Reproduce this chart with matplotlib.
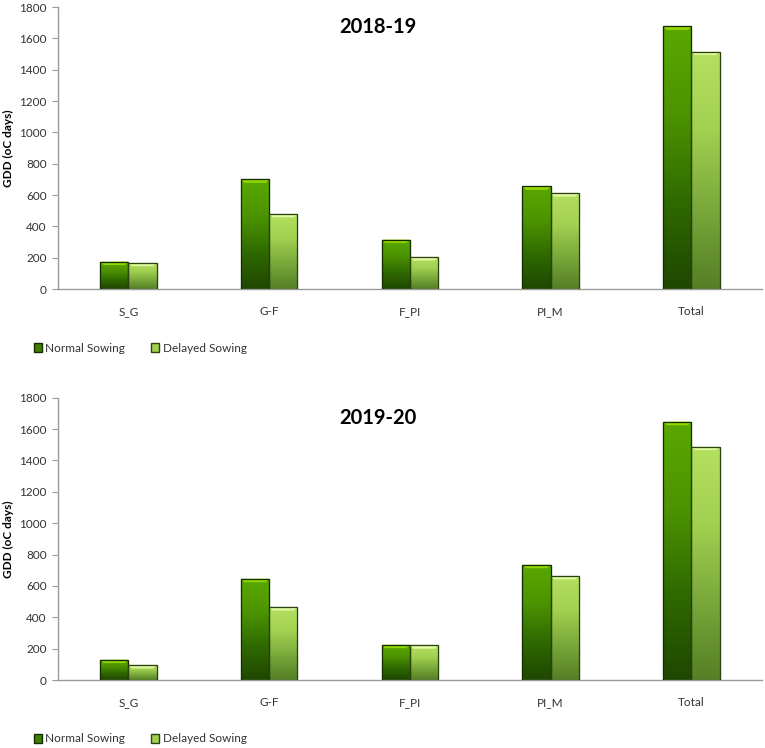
import numpy as np
import matplotlib
matplotlib.use("Agg")
import matplotlib.pyplot as plt
from matplotlib.patches import Patch
from matplotlib.colors import LinearSegmentedColormap

plt.rcParams['font.family'] = ['Lato', 'DejaVu Sans']

categories = ["S_G", "G-F", "F_PI", "PI_M", "Total"]
series_names = ["Normal Sowing", "Delayed Sowing"]
titles = ["2018-19", "2019-20"]
normal_1819 = [175, 700, 316, 655, 1676]
delayed_1819 = [168, 480, 204, 612, 1516]
normal_1920 = [130, 646, 225, 735, 1647]
delayed_1920 = [96, 465, 221, 663, 1488]
yticks = [0, 200, 400, 600, 800, 1000, 1200, 1400, 1600, 1800]

cmap_normal = LinearSegmentedColormap.from_list("n", ["#1f4700", "#2f6a00", "#4c9400", "#5aa800"])
cmap_delayed = LinearSegmentedColormap.from_list("d", ["#557f25", "#78a83a", "#a2d050", "#b4e060"])

fig = plt.figure(figsize=(7.65, 7.48), dpi=100)
axes_rects = [[0.0758, 0.6136, 0.920, 0.377], [0.0758, 0.0909, 0.920, 0.3774]]
data = [(normal_1819, delayed_1819), (normal_1920, delayed_1920)]
legend_y = [1 - 348 / 748, 1 - 739 / 748]

x = np.arange(len(categories)) + 0.5
w = 0.2
grad = np.linspace(0, 1, 256).reshape(-1, 1)

for k, ax in enumerate([fig.add_axes(r) for r in axes_rects]):
    n_vals, d_vals = data[k]
    bars_n = ax.bar(x - w / 2, n_vals, w, color="#3f8000", edgecolor="#142c00", linewidth=0.8, zorder=2)
    bars_d = ax.bar(x + w / 2, d_vals, w, color="#8fc048", edgecolor="#2a420e", linewidth=0.8, zorder=2)
    for bars, cmap, hl in [(bars_n, cmap_normal, "#9ee000"), (bars_d, cmap_delayed, "#e8ffb0")]:
        for b in bars:
            x0, y0 = b.get_x(), b.get_y()
            bw, bh = b.get_width(), b.get_height()
            im = ax.imshow(grad, cmap=cmap, origin="lower", aspect="auto",
                           extent=[x0, x0 + bw, y0, y0 + bh], zorder=2.5)
            im.set_clip_path(b)
            # top bevel highlight
            cap = min(22, bh * 0.3)
            ax.fill([x0, x0 + bw, x0 + bw * 0.88, x0 + bw * 0.12],
                    [y0 + bh, y0 + bh, y0 + bh - cap, y0 + bh - cap],
                    color=hl, alpha=0.85, zorder=2.6, linewidth=0)
            ax.add_patch(plt.Rectangle((x0, y0), bw, bh, fill=False,
                                       edgecolor=b.get_edgecolor(), linewidth=0.9, zorder=2.7))
    ax.set_xlim(0, 5)
    ax.set_ylim(0, 1800)
    ax.set_yticks(yticks)
    ax.set_yticklabels([str(t) for t in yticks], fontsize=8.5, color="#333333")
    ax.set_xticks(x)
    ax.set_xticklabels(categories, fontsize=8.5, color="#333333")
    ax.tick_params(axis="x", length=0, pad=12)
    ax.tick_params(axis="y", length=4, color="#9a9a9a", direction="out", pad=4)
    for s in ["top", "right"]:
        ax.spines[s].set_visible(False)
    for s in ["left", "bottom"]:
        ax.spines[s].set_color("#9a9a9a")
        ax.spines[s].set_linewidth(1.0)
    ax.set_ylabel("GDD (oC days)", fontsize=8.5, fontweight="bold")
    ax.yaxis.set_label_coords(-0.062, 0.5)
    ax.text(0.4545, 0.965, titles[k], transform=ax.transAxes,
            ha="center", va="top", fontsize=14.5, fontweight="bold")
    handles = [Patch(facecolor="#3f8000", edgecolor="#142c00"),
               Patch(facecolor="#a2d050", edgecolor="#2a420e")]
    fig.legend(handles, series_names, loc="center left",
               bbox_to_anchor=(0.03, legend_y[k]), ncol=2, frameon=False,
               fontsize=8.5, handlelength=0.7, handleheight=0.7, handletextpad=0.3,
               columnspacing=2.2, labelcolor="#333333")

fig.savefig("out.png", dpi=100)
